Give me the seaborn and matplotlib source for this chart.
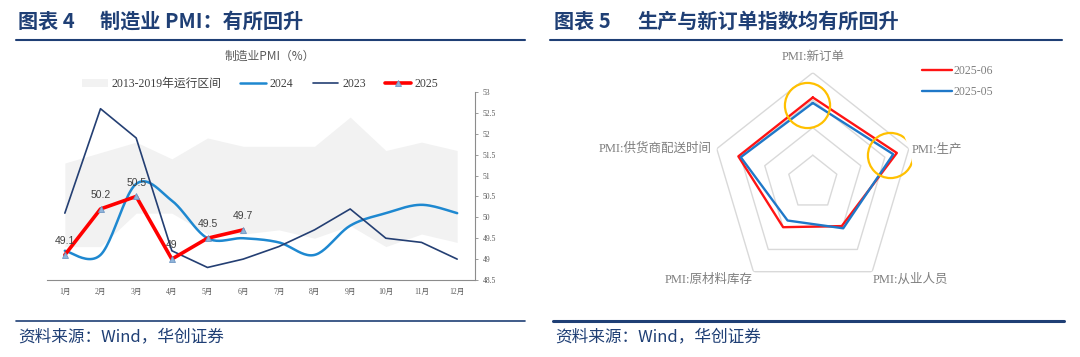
import numpy as np
import matplotlib
matplotlib.use("Agg")
import matplotlib.pyplot as plt
import seaborn as sns
from matplotlib.lines import Line2D
from matplotlib.patches import Patch

# ---------------- data ----------------
months = ['1月', '2月', '3月', '4月', '5月', '6月', '7月', '8月', '9月', '10月', '11月', '12月']
band_low = [49.3, 49.3, 50.1, 50.1, 49.6, 49.6, 49.7, 49.5, 49.8, 49.3, 49.6, 49.4]
band_high = [51.3, 51.55, 51.8, 51.4, 51.9, 51.7, 51.7, 51.7, 52.4, 51.6, 51.8, 51.6]
pmi_2024 = [49.2, 49.1, 50.8, 50.4, 49.5, 49.5, 49.4, 49.1, 49.8, 50.1, 50.3, 50.1]
pmi_2023 = [50.1, 52.6, 51.9, 49.2, 48.8, 49.0, 49.3, 49.7, 50.2, 49.5, 49.4, 49.0]
pmi_2025 = [49.1, 50.2, 50.5, 49.0, 49.5, 49.7]
y_ticks = [48.5, 49, 49.5, 50, 50.5, 51, 51.5, 52, 52.5, 53]

radar_labels = ['PMI:新订单', 'PMI:生产', 'PMI:从业人员', 'PMI:原材料库存', 'PMI:供货商配送时间']
radar_2025_06 = [50.2, 51.0, 47.9, 48.0, 50.2]
radar_2025_05 = [49.8, 50.7, 48.1, 47.4, 50.0]
radar_rings = [46, 48, 50, 52]
radar_min = 44

# ---------------- style ----------------
sns.set_theme(style="white")
plt.rcParams['font.family'] = ['Noto Sans CJK SC', 'DejaVu Sans']
plt.rcParams['axes.unicode_minus'] = False
SERIF = ['Liberation Serif', 'Noto Sans CJK SC']
NAVY = '#1F3F75'

W, H = 1080, 357
fig = plt.figure(figsize=(W / 100, H / 100), dpi=100)


def fx(x):
    return x / W


def fy(y):
    return 1 - y / H


# headers, rules, sources
fig.text(fx(18), fy(21), '图表 4', fontsize=14.5, fontweight='bold',
         color=NAVY, va='center', ha='left')
fig.text(fx(100), fy(21), '制造业 PMI：有所回升', fontsize=14.5, fontweight='bold',
         color=NAVY, va='center', ha='left')
fig.text(fx(554), fy(21), '图表 5', fontsize=14.5, fontweight='bold',
         color=NAVY, va='center', ha='left')
fig.text(fx(637), fy(21), '生产与新订单指数均有所回升', fontsize=14.5, fontweight='bold',
         color=NAVY, va='center', ha='left')
for (x0, x1, y, lw) in [(16, 525, 40, 1.5), (550, 1062, 40, 1.5), (16, 525, 321, 1.2), (553, 1064, 321, 2.2)]:
    fig.add_artist(Line2D([fx(x0), fx(x1)], [fy(y), fy(y)], color=NAVY, lw=lw,
                          transform=fig.transFigure))
fig.text(fx(18), fy(337), '资料来源：Wind，华创证券', fontsize=12, style='italic', color=NAVY,
         va='center', ha='left')
fig.text(fx(555), fy(337), '资料来源：Wind，华创证券', fontsize=12, style='italic', color=NAVY,
         va='center', ha='left')

# ---------------- left chart ----------------
ax = fig.add_axes([fx(47), fy(280), (475 - 47) / W, (280 - 92) / H])
idx = np.arange(len(months))

ax.fill_between(idx, band_low, band_high, color='#f2f2f2', lw=0, zorder=1)


def catmull_rom(xs, ys, n=24):
    P = np.column_stack([xs, ys]).astype(float)
    P = np.vstack([P[0], P, P[-1]])
    out = []
    t = np.linspace(0, 1, n, endpoint=False)[:, None]
    for i in range(1, len(P) - 2):
        p0, p1, p2, p3 = P[i - 1], P[i], P[i + 1], P[i + 2]
        seg = 0.5 * ((2 * p1) + (-p0 + p2) * t + (2 * p0 - 5 * p1 + 4 * p2 - p3) * t ** 2
                     + (-p0 + 3 * p1 - 3 * p2 + p3) * t ** 3)
        out.append(seg)
    out.append(P[-2][None, :])
    return np.vstack(out)


c24 = catmull_rom(idx, pmi_2024)
ax.plot(c24[:, 0], c24[:, 1], color='#1E88D0', lw=1.8, zorder=3, solid_capstyle='round')
sns.lineplot(x=idx, y=pmi_2023, ax=ax, color='#243F73', lw=1.2, zorder=4)
sns.lineplot(x=idx[:len(pmi_2025)], y=pmi_2025, ax=ax, color='#FF0000', lw=2.6, zorder=5,
             marker='^', markersize=4, markerfacecolor='#8FB4DA', markeredgecolor='#6F97C4',
             markeredgewidth=0.6)
for i, v in enumerate(pmi_2025):
    ax.annotate(f'{v:g}', xy=(i, v), xytext=(0, 10), textcoords='offset points',
                ha='center', va='center', fontsize=7.5, color='#404040',
                family=['Liberation Sans', 'DejaVu Sans'], zorder=6)

ax.set_xlim(-0.5, 11.5)
ax.set_ylim(48.5, 53)
ax.set_xticks(idx)
ax.set_xticklabels(months)
ax.set_xticks(np.arange(-0.5, 12, 1), minor=True)
ax.tick_params(axis='x', which='major', length=0, pad=6, labelsize=5.5, labelcolor='#595959')
ax.tick_params(axis='x', which='minor', length=3, width=0.6, color='#8c8c8c', direction='out')
ax.yaxis.tick_right()
ax.set_yticks(y_ticks)
ax.set_yticklabels([f'{v:g}' for v in y_ticks])
ax.tick_params(axis='y', which='major', right=True, length=2.5, width=0.6, color='#8c8c8c',
               direction='out', pad=3, labelsize=5.5, labelcolor='#595959')
for t in ax.get_xticklabels() + ax.get_yticklabels():
    t.set_fontfamily(SERIF)
for s in ['left', 'top']:
    ax.spines[s].set_visible(False)
for s in ['bottom', 'right']:
    ax.spines[s].set_color('#8c8c8c')
    ax.spines[s].set_linewidth(0.8)
ax.grid(False)
ax.set_xlabel('')
ax.set_ylabel('')

fig.text(fx(270), fy(56), '制造业PMI（%）', fontsize=8.5, color='#595959', ha='center', va='center')
handles = [
    Patch(facecolor='#f2f2f2', edgecolor='none'),
    Line2D([], [], color='#1E88D0', lw=1.8),
    Line2D([], [], color='#243F73', lw=1.2),
    Line2D([], [], color='#FF0000', lw=2.6, marker='^', markersize=4,
           markerfacecolor='#8FB4DA', markeredgecolor='#6F97C4', markeredgewidth=0.6),
]
leg = fig.legend(handles, ['2013-2019年运行区间', '2024', '2023', '2025'], loc='center',
                 bbox_to_anchor=(fx(260), fy(84)), ncol=4, frameon=False,
                 prop={'family': SERIF, 'size': 8.5}, handlelength=2.2, handleheight=0.6,
                 handletextpad=0.3, columnspacing=1.6, borderpad=0)
for t in leg.get_texts():
    t.set_color('#404040')

# ---------------- radar chart ----------------
cx, cy, rx, ry = 812.8, 182.7, 101, 110
rax = fig.add_axes([fx(cx - rx), fy(cy + ry), 2 * rx / W, 2 * ry / H], projection='polar')
rax.set_aspect('auto')
rax.set_theta_zero_location('N')
rax.set_theta_direction(-1)
n = len(radar_labels)
theta = np.linspace(0, 2 * np.pi, n, endpoint=False)
theta_c = np.append(theta, theta[0])
rax.set_ylim(radar_min, radar_rings[-1])
for rv in radar_rings:
    rax.plot(theta_c, [rv] * (n + 1), color='#d9d9d9', lw=1.0, zorder=1)
rax.plot(theta_c, radar_2025_06 + radar_2025_06[:1], color='#FF1414', lw=1.7, zorder=3,
         label='2025-06')
rax.plot(theta_c, radar_2025_05 + radar_2025_05[:1], color='#1F78C8', lw=1.7, zorder=4,
         label='2025-05')
# highlight circles
rax.plot([theta[0] - np.deg2rad(4.4)], [49.65], marker='o', markersize=32.5,
         markerfacecolor='none', markeredgecolor='#FFC000', markeredgewidth=1.6, zorder=5)
rax.plot([theta[1] - np.deg2rad(0.3)], [50.45], marker='o', markersize=32.5,
         markerfacecolor='none', markeredgecolor='#FFC000', markeredgewidth=1.6, zorder=5)
rax.grid(False)
rax.spines['polar'].set_visible(False)
rax.set_xticks([])
rax.set_yticks([])
rax.set_facecolor('none')

label_pos = [((0, 11.3), 'center'), ((2.2, 0), 'left'), ((0.7, -5.8), 'left'),
             ((-0.7, -5.8), 'right'), ((-3.6, 0), 'right')]
for th, lab, (off, ha) in zip(theta, radar_labels, label_pos):
    rax.annotate(lab, xy=(th, radar_rings[-1]), xytext=off, textcoords='offset points',
                 ha=ha, va='center', fontsize=9, color='#7f7f7f', family=SERIF,
                 annotation_clip=False)

rleg = fig.legend(handles=[Line2D([], [], color='#FF1414', lw=1.7),
                           Line2D([], [], color='#1F78C8', lw=1.7)],
                  labels=['2025-06', '2025-05'], loc='upper left',
                  bbox_to_anchor=(fx(922), fy(65)), frameon=False,
                  prop={'family': SERIF, 'size': 8.5}, handlelength=2.5, handletextpad=0.2,
                  labelspacing=0.75, borderpad=0, borderaxespad=0)
for t in rleg.get_texts():
    t.set_color('#7f7f7f')

fig.savefig('out.png', dpi=100)
